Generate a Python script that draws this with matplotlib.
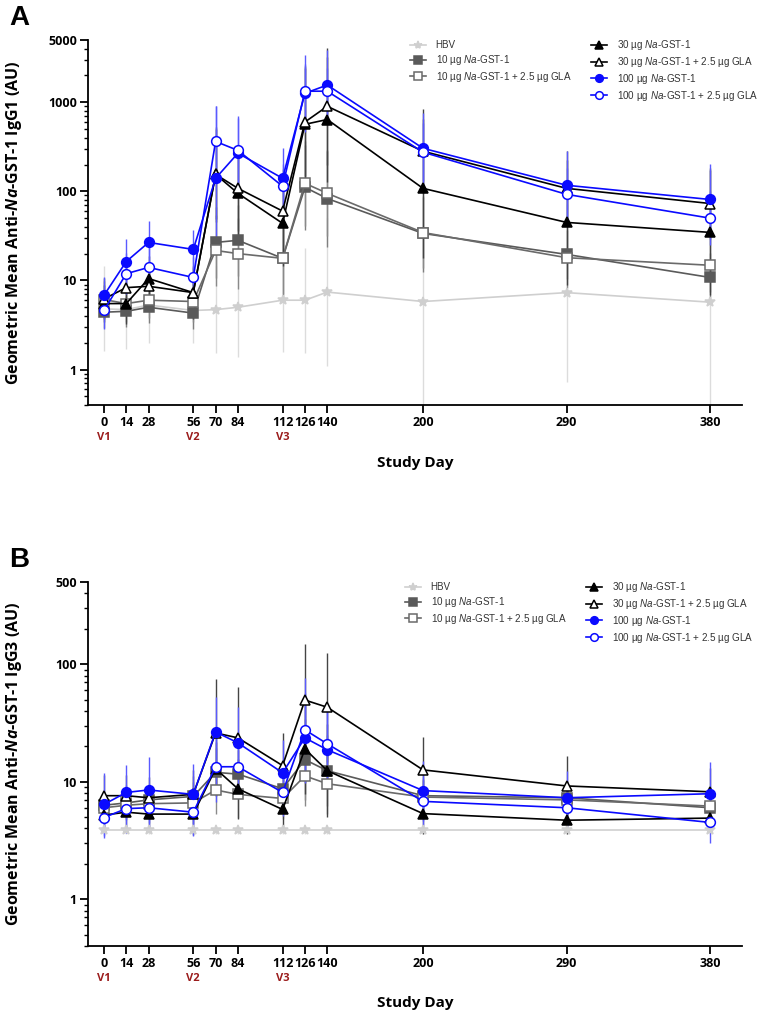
import numpy as np
import matplotlib
matplotlib.use('Agg')
import matplotlib.pyplot as plt
from matplotlib.ticker import LogLocator, FixedLocator, NullFormatter
from matplotlib.lines import Line2D
import matplotlib.transforms as mtransforms

plt.rcParams['font.family'] = ['Open Sans', 'DejaVu Sans']
plt.rcParams['mathtext.fontset'] = 'custom'
plt.rcParams['mathtext.rm'] = 'Liberation Sans'
plt.rcParams['mathtext.it'] = 'Liberation Sans:italic'
plt.rcParams['mathtext.bf'] = 'Open Sans:bold'
plt.rcParams['mathtext.bfit'] = 'Open Sans:bold:italic'

days = [0, 14, 28, 56, 70, 84, 112, 126, 140, 200, 290, 380]
visits = {'V1': 0, 'V2': 56, 'V3': 112}

groups = ['HBV', '10 µg $\\it{Na}$-GST-1', '10 µg $\\it{Na}$-GST-1 + 2.5 µg GLA',
          '30 µg $\\it{Na}$-GST-1', '30 µg $\\it{Na}$-GST-1 + 2.5 µg GLA',
          '100 µg $\\it{Na}$-GST-1', '100 µg $\\it{Na}$-GST-1 + 2.5 µg GLA']

# IgG1 geometric means
igg1_hbv = [4.8, 4.7, 5.3, 4.6, 4.7, 5.0, 6.0, 6.0, 7.4, 5.8, 7.3, 5.7]
igg1_10 = [4.4, 4.5, 5.0, 4.3, 26.7, 28.2, 17.7, 111, 83, 33.7, 19.6, 10.8]
igg1_10g = [6.1, 5.5, 6.0, 5.8, 21.7, 20.0, 17.7, 123, 95, 34.5, 18.0, 14.8]
igg1_30 = [5.5, 5.5, 10.5, 7.3, 155, 95, 43.7, 565, 640, 108, 44.8, 34.6]
igg1_30g = [6.2, 8.3, 8.6, 7.3, 155, 108, 60, 600, 900, 282, 108, 73]
igg1_100 = [6.8, 16.3, 26.7, 22.3, 140, 268, 140, 1260, 1560, 304, 117, 81]
igg1_100g = [4.6, 11.9, 14.0, 10.8, 363, 288, 114, 1330, 1330, 275, 92.5, 50]

# IgG1 geometric SD factors
igg1_hbv_sd = [3.0, 2.8, 2.7, 2.3, 3.1, 3.6, 3.8, 3.9, 6.7, 15, 10, 15]
igg1_10_sd = [1.5, 1.5, 1.5, 1.5, 2.5, 2.5, 2.8, 3.0, 3.5, 2.7, 1.9, 1.9]
igg1_10g_sd = [1.6, 1.6, 1.6, 1.7, 2.5, 2.5, 2.5, 3.0, 3.0, 2.5, 2.2, 2.0]
igg1_30_sd = [1.6, 1.7, 1.8, 1.9, 3.4, 3.3, 3.0, 4.5, 5.0, 6.0, 5.0, 5.0]
igg1_30g_sd = [1.7, 1.8, 1.8, 2.0, 3.2, 3.0, 3.0, 4.0, 4.5, 3.0, 2.6, 2.5]
igg1_100_sd = [1.6, 1.8, 1.75, 1.65, 6.5, 2.6, 2.2, 2.7, 2.5, 2.5, 2.4, 2.5]
igg1_100g_sd = [1.6, 1.7, 1.7, 1.7, 2.5, 2.3, 1.8, 2.0, 1.8, 2.1, 2.0, 2.0]

# IgG3 geometric means
igg3_hbv = [3.85, 3.85, 3.85, 3.85, 3.85, 3.85, 3.85, 3.85, 3.85, 3.85, 3.85, 3.85]
igg3_10 = [6.3, 6.6, 7.0, 7.5, 12.0, 11.6, 8.7, 15.4, 12.4, 7.6, 7.3, 6.0]
igg3_10g = [6.0, 6.3, 6.5, 6.6, 8.5, 7.8, 7.2, 11.2, 9.6, 7.4, 7.0, 6.2]
igg3_30 = [5.2, 5.5, 5.3, 5.3, 12.9, 8.7, 5.8, 19.0, 12.4, 5.35, 4.7, 4.9]
igg3_30g = [7.6, 7.6, 7.3, 7.8, 26.0, 23.6, 13.7, 49.5, 43, 12.6, 9.2, 8.2]
igg3_100 = [6.4, 8.1, 8.5, 7.8, 26.5, 21.4, 11.9, 23.6, 18.7, 8.4, 7.3, 7.9]
igg3_100g = [4.95, 5.9, 6.0, 5.5, 13.4, 13.4, 8.1, 27.6, 21.0, 6.8, 6.0, 4.5]

# IgG3 geometric SD factors
igg3_hbv_sd = [1.08] * 12
igg3_10_sd = [1.3, 1.3, 1.3, 1.5, 1.6, 1.6, 1.5, 2.2, 2.0, 1.4, 1.4, 1.4]
igg3_10g_sd = [1.3, 1.3, 1.3, 1.5, 1.6, 1.6, 1.5, 1.8, 1.8, 1.4, 1.4, 1.3]
igg3_30_sd = [1.3, 1.4, 1.4, 1.5, 1.7, 1.8, 1.5, 2.4, 2.5, 1.5, 1.3, 1.3]
igg3_30g_sd = [1.5, 1.5, 1.5, 1.6, 2.9, 2.7, 1.9, 3.0, 2.9, 1.9, 1.8, 1.6]
igg3_100_sd = [1.85, 1.7, 1.9, 1.8, 2.0, 2.0, 1.9, 2.4, 2.1, 1.8, 1.7, 1.85]
igg3_100g_sd = [1.5, 1.6, 1.6, 1.6, 2.0, 1.8, 1.6, 2.75, 2.0, 1.6, 1.6, 1.5]

# style per group: colour, marker, filled, errorbar colour
styles = [
    ('#cfcfcf', '*', True, '#dcdcdc'),
    ('#5a5a5a', 's', True, '#808080'),
    ('#6a6a6a', 's', False, '#8a8a8a'),
    ('#000000', '^', True, '#444444'),
    ('#000000', '^', False, '#444444'),
    ('#0a0aff', 'o', True, '#5a5aff'),
    ('#0a0aff', 'o', False, '#5a5aff'),
]

panels = [
    ([igg1_hbv, igg1_10, igg1_10g, igg1_30, igg1_30g, igg1_100, igg1_100g],
     [igg1_hbv_sd, igg1_10_sd, igg1_10g_sd, igg1_30_sd, igg1_30g_sd, igg1_100_sd, igg1_100g_sd],
     'IgG1', (0.4, 5000), [1, 10, 100, 1000, 5000]),
    ([igg3_hbv, igg3_10, igg3_10g, igg3_30, igg3_30g, igg3_100, igg3_100g],
     [igg3_hbv_sd, igg3_10_sd, igg3_10g_sd, igg3_30_sd, igg3_30g_sd, igg3_100_sd, igg3_100g_sd],
     'IgG3', (0.4, 500), [1, 10, 100, 500]),
]

fig = plt.figure(figsize=(7.65, 10.14), dpi=100)
axes_pos = [[0.115, 0.6006, 0.855, 0.36], [0.115, 0.0671, 0.855, 0.3589]]
letters = ['A', 'B']
legend_y = [1 - 38 / 1014, 1 - 580 / 1014]
legend_x = [410 / 765, 405 / 765]

draw_order = [0, 1, 2, 5, 6, 3, 4]  # blue below the black lines

for p, (means, sds, iso, ylim, yt) in enumerate(panels):
    ax = fig.add_axes(axes_pos[p])
    for g in draw_order:
        col, mk, filled, ecol = styles[g]
        m = np.array(means[g])
        f = np.array(sds[g])
        lo = m - m / f
        hi = m * f - m
        ax.errorbar(days, m, yerr=[lo, hi], fmt='none', ecolor=ecol, elinewidth=1.0,
                    capsize=0, zorder=2 + g * 0.1)
    for g in draw_order:
        col, mk, filled, ecol = styles[g]
        ms = 7.5 if mk == '*' else (7 if mk == 'o' else 6.5)
        ax.plot(days, means[g], color=col, lw=1.2, marker=mk, ms=ms,
                mfc=col if filled else 'white', mec=col, mew=1.1, zorder=4 + g * 0.1)

    ax.set_yscale('log')
    ax.set_ylim(ylim)
    ax.set_xlim(-10, 400)
    ax.yaxis.set_major_locator(FixedLocator(yt))
    ax.set_yticklabels([str(v) for v in yt])
    ax.yaxis.set_minor_locator(LogLocator(base=10, subs=np.arange(2, 10)))
    ax.yaxis.set_minor_formatter(NullFormatter())
    ax.set_xticks(days)
    ax.set_xticklabels([str(d) for d in days])
    for s in ['top', 'right']:
        ax.spines[s].set_visible(False)
    for s in ['left', 'bottom']:
        ax.spines[s].set_linewidth(1.3)
    ax.tick_params(axis='both', which='major', direction='out', length=6, width=1.3,
                   labelsize=9, pad=2)
    ax.tick_params(axis='y', which='minor', direction='out', length=3, width=1.0)
    for lab in ax.get_xticklabels() + ax.get_yticklabels():
        lab.set_fontweight('bold')

    trans = mtransforms.blended_transform_factory(ax.transData, ax.transAxes)
    for vname, vday in visits.items():
        ax.text(vday, -0.09, vname, transform=trans, ha='center', va='center',
                color='#9b1c1c', fontsize=8, fontweight='bold')
    ax.text(0.5, -0.158, 'Study Day', transform=ax.transAxes, ha='center', va='center',
            fontsize=11, fontweight='bold')
    ax.set_ylabel('Geometric Mean Anti-$\\mathbfit{Na}$-GST-1 ' + iso + ' (AU)',
                  fontsize=11.5, fontweight='bold')
    ax.yaxis.set_label_coords(-0.098, 0.5)

    handles = []
    for g in range(7):
        col, mk, filled, ecol = styles[g]
        ms = 6 if mk == '*' else 5.5
        handles.append(Line2D([], [], color=col, lw=1.2, marker=mk, ms=ms,
                              mfc=col if filled else 'white', mec=col, mew=1.1))
    blank = Line2D([], [], color='none')
    hs = handles[:3] + [blank] + handles[3:]
    ls = groups[:3] + [''] + groups[3:]
    leg = fig.legend(hs, ls, loc='upper left', bbox_to_anchor=(legend_x[p], legend_y[p]),
                     bbox_transform=fig.transFigure, ncol=2, frameon=False,
                     borderpad=0, borderaxespad=0,
                     prop={'family': 'Liberation Sans', 'size': 7.1}, handlelength=1.6,
                     handletextpad=1.0, columnspacing=2.0, labelspacing=0.3)
    for t in leg.get_texts():
        t.set_color('#333333')

    fig.text(0.012, axes_pos[p][1] + axes_pos[p][3] + 0.022, letters[p],
             fontsize=20, fontweight='bold', family='Liberation Sans', va='center')

fig.savefig('out.png', dpi=100)
